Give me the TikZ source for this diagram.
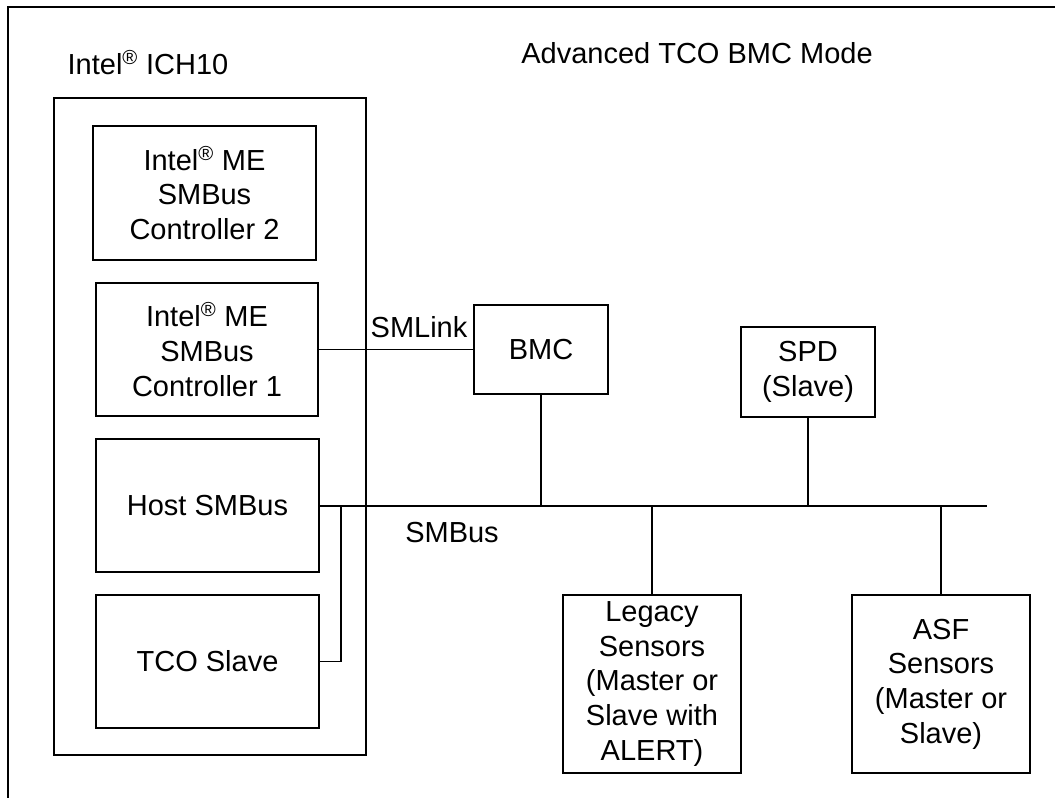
\documentclass[tikz,border=0pt]{standalone}
\usepackage{fontspec}
\setmainfont{Liberation Sans}
\begin{document}
\begin{tikzpicture}[x={(0.75pt,0)},y={(0,-0.75pt)},
  every node/.style={font=\fontsize{21.75pt}{26pt}\selectfont},
  box/.style={draw,line width=1.2pt,inner sep=0pt,align=center},
  wire/.style={line width=1.2pt},
  lbl/.style={inner sep=0pt}]
\useasboundingbox (0,0) rectangle (1055,798);
% outer frame (top and left edges only)
\draw[line width=2pt] (8,798) -- (8,7) -- (1055,7);
% titles
\node[lbl] (title) at (697,53) {Advanced TCO BMC Mode};
\node[lbl] (ichlbl) at (148,63) {Intel\textsuperscript{®} ICH10};
% ICH10 container
\node[box,minimum width=234pt,minimum height=492.75pt] (ich) at (210,426.5) {};
% internal blocks
\node[box,minimum width=167.25pt,minimum height=100.5pt] (me2) at (204.5,193) {Intel\textsuperscript{®} ME\\SMBus\\Controller 2};
\node[box,minimum width=166.5pt,minimum height=99.75pt] (me1) at (207,349.5) {Intel\textsuperscript{®} ME\\SMBus\\Controller 1};
\node[box,minimum width=167.25pt,minimum height=99.75pt] (host) at (207.5,505.5) {Host SMBus};
\node[box,minimum width=167.25pt,minimum height=99.75pt] (tco) at (207.5,661.5) {TCO Slave};
% external devices
\node[box,minimum width=100.5pt,minimum height=66.75pt] (bmc) at (541,349.5) {BMC};
\node[box,minimum width=100.5pt,minimum height=67.5pt] (spd) at (808,372) {SPD\\(Slave)};
\node[box,minimum width=133.5pt,minimum height=133.5pt] (legacy) at (652,684) {Legacy\\Sensors\\(Master or\\Slave with\\ALERT)};
\node[box,minimum width=133.5pt,minimum height=133.5pt] (asf) at (941,684) {ASF\\Sensors\\(Master or\\Slave)};
% bus coordinates
\coordinate (busR) at (987,506);
\coordinate (jHost) at (341,506);
\coordinate (jBmc) at (541,506);
\coordinate (jLeg) at (652,506);
\coordinate (jSpd) at (808,506);
\coordinate (jAsf) at (941,506);
% connectors
\draw[wire] (me1.east |- bmc.west) -- (bmc.west);
\draw[wire] (host.east |- busR) -- (busR);
\draw[wire] (bmc.south) -- (jBmc);
\draw[wire] (spd.south) -- (jSpd);
\draw[wire] (jLeg) -- (legacy.north);
\draw[wire] (jAsf) -- (asf.north);
\draw[wire] (jHost) |- (tco.east);
% labels
\node[lbl] (smlink) at (419,327) {SMLink};
\node[lbl] (smbus) at (452,533) {SMBus};
\end{tikzpicture}
\end{document}
